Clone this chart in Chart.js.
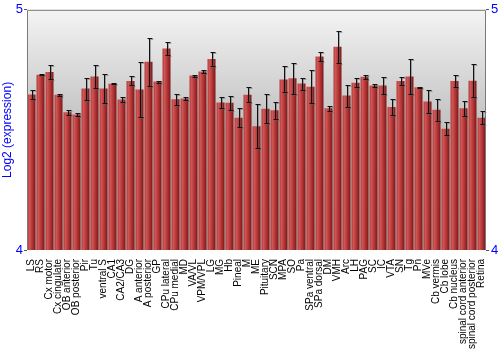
<!DOCTYPE html>
<html>
<head>
<meta charset="utf-8">
<script src="https://cdn.jsdelivr.net/npm/chart.js@4"></script>
<style>
  html, body { margin: 0; padding: 0; background: #fff; }
  #wrap { width: 500px; height: 350px; }
</style>
</head>
<body>
<div id="wrap"><canvas id="expr-chart" width="500" height="350"></canvas></div>
<script>
const regions = [
  "LS", "RS", "Cx motor", "Cx cingulate", "OB anterior", "OB posterior", "Pir", "Tu",
  "ventral S", "CA1", "CA2/CA3", "DG", "A anterior", "A posterior", "GP", "CPu lateral",
  "CPu medial", "MD", "VA/VL", "VPM/VPL", "LG", "MG", "Hb", "Pineal", "M", "ME",
  "Pituitary", "SCN", "MPA", "SO", "Pa", "SPa ventral", "SPa dorsal", "DM", "VMH", "Arc",
  "LH", "PAG", "SC", "IC", "VTA", "SN", "Tg", "Pn", "MVe", "Cb vermis", "Cb lobe",
  "Cb nucleus", "spinal cord anterior", "spinal cord posterior", "Retina",
];

// mean log2 expression per region
const meanExpr = [
  4.647, 4.730, 4.741, 4.646, 4.573, 4.564, 4.672, 4.722,
  4.672, 4.692, 4.627, 4.704, 4.668, 4.784, 4.701, 4.839,
  4.628, 4.631, 4.726, 4.743, 4.795, 4.614, 4.613, 4.551, 4.646, 4.515,
  4.588, 4.582, 4.710, 4.715, 4.693, 4.680, 4.806, 4.590, 4.846, 4.643,
  4.696, 4.721, 4.685, 4.685, 4.595, 4.704, 4.722, 4.678, 4.618, 4.584, 4.505,
  4.704, 4.590, 4.705, 4.551,
];

// half length of each error bar
const errExpr = [
  0.019, 0.002, 0.031, 0.004, 0.010, 0.006, 0.046, 0.048,
  0.060, 0.002, 0.010, 0.019, 0.116, 0.100, 0.004, 0.027,
  0.023, 0.008, 0.004, 0.006, 0.029, 0.023, 0.029, 0.039, 0.031, 0.091,
  0.060, 0.035, 0.054, 0.064, 0.025, 0.068, 0.019, 0.010, 0.066, 0.046,
  0.019, 0.008, 0.006, 0.037, 0.033, 0.015, 0.073, 0.002, 0.048, 0.046, 0.027,
  0.025, 0.031, 0.068, 0.027,
];

const yTicks = [4, 5];

// gray gradient behind the bars + frame around the plot
const plotBackground = {
  id: "plotBackground",
  beforeDraw(chart) {
    const { ctx, chartArea: a } = chart;
    const g = ctx.createLinearGradient(0, a.top, 0, a.bottom);
    g.addColorStop(0, "#f4f4f4");
    g.addColorStop(0.5, "#bfbfbf");
    g.addColorStop(1, "#b2b2b2");
    ctx.save();
    ctx.fillStyle = g;
    ctx.fillRect(a.left, a.top, a.right - a.left, a.bottom - a.top);
    ctx.restore();
  },
  afterDraw(chart) {
    const { ctx, chartArea: a } = chart;
    ctx.save();
    ctx.strokeStyle = "#7a7a7a";
    ctx.lineWidth = 1;
    ctx.beginPath();
    ctx.moveTo(a.left + 0.5, a.bottom);
    ctx.lineTo(a.left + 0.5, a.top + 0.5);
    ctx.lineTo(a.right - 0.5, a.top + 0.5);
    ctx.lineTo(a.right - 0.5, a.bottom);
    ctx.stroke();
    ctx.restore();
  },
};

// error bars with a soft gray shadow
const errorBars = {
  id: "errorBars",
  afterDatasetsDraw(chart) {
    const { ctx } = chart;
    const y = chart.scales.y;
    const meta = chart.getDatasetMeta(0);
    ctx.save();
    meta.data.forEach((bar, i) => {
      const x = Math.round(bar.x) + 0.5;
      const top = Math.round(y.getPixelForValue(meanExpr[i] + errExpr[i])) + 0.5;
      const bot = Math.round(y.getPixelForValue(meanExpr[i] - errExpr[i])) + 0.5;
      const draw = (dx, dy, color) => {
        ctx.strokeStyle = color;
        ctx.lineWidth = 1;
        ctx.beginPath();
        ctx.moveTo(x + dx, top + dy);
        ctx.lineTo(x + dx, bot + dy);
        ctx.moveTo(x + dx - 2, top + dy);
        ctx.lineTo(x + dx + 3, top + dy);
        ctx.moveTo(x + dx - 2, bot + dy);
        ctx.lineTo(x + dx + 3, bot + dy);
        ctx.stroke();
      };
      draw(1, 1, "rgba(90, 90, 90, 0.45)");
      draw(0, 0, "#111");
    });
    ctx.restore();
  },
};

function barGradient(context) {
  const chart = context.chart;
  const xScale = chart.scales.x;
  if (!chart.chartArea || !xScale) return "#b03030";
  const cx = xScale.getPixelForValue(context.dataIndex);
  const half = 4;
  const g = chart.ctx.createLinearGradient(cx - half, 0, cx + half, 0);
  g.addColorStop(0, "#b03a3a");
  g.addColorStop(0.25, "#cf5555");
  g.addColorStop(0.55, "#b83838");
  g.addColorStop(1, "#7c1717");
  return g;
}

const ctx = document.getElementById("expr-chart").getContext("2d");

new Chart(ctx, {
  type: "bar",
  data: {
    labels: regions,
    datasets: [
      {
        label: "Log2 (expression)",
        data: meanExpr,
        backgroundColor: barGradient,
        borderWidth: 0,
        categoryPercentage: 1,
        barPercentage: 0.89,
      },
    ],
  },
  options: {
    responsive: false,
    animation: false,
    layout: { padding: { top: 4, right: 0, bottom: 0, left: 0 } },
    plugins: {
      legend: { display: false },
      tooltip: { enabled: false },
    },
    scales: {
      x: {
        grid: { display: false },
        border: { display: false },
        ticks: {
          autoSkip: false,
          minRotation: 90,
          maxRotation: 90,
          padding: 1,
          color: "#000",
          font: { family: "Liberation Sans", size: 10 },
        },
        afterFit: (scale) => { scale.height = 100; },
      },
      y: {
        min: 4,
        max: 5,
        afterBuildTicks: (scale) => { scale.ticks = yTicks.map((v) => ({ value: v })); },
        grid: { drawOnChartArea: false, tickLength: 3, color: "#555" },
        border: { display: false },
        ticks: {
          color: "#0000ff",
          padding: 1,
          font: { family: "Liberation Sans", size: 13 },
        },
        title: {
          display: true,
          text: "Log2 (expression)",
          color: "#0000ff",
          padding: { top: 0, bottom: 2 },
          font: { family: "Liberation Sans", size: 12 },
        },
        afterFit: (scale) => { scale.width = 27; },
      },
      y2: {
        display: true,
        position: "right",
        min: 4,
        max: 5,
        afterBuildTicks: (scale) => { scale.ticks = yTicks.map((v) => ({ value: v })); },
        grid: { drawOnChartArea: false, tickLength: 3, color: "#555" },
        border: { display: false },
        ticks: {
          color: "#0000ff",
          padding: 2,
          font: { family: "Liberation Sans", size: 13 },
        },
        afterFit: (scale) => { scale.width = 14; },
      },
    },
  },
  plugins: [plotBackground, errorBars],
});
</script>
</body>
</html>
